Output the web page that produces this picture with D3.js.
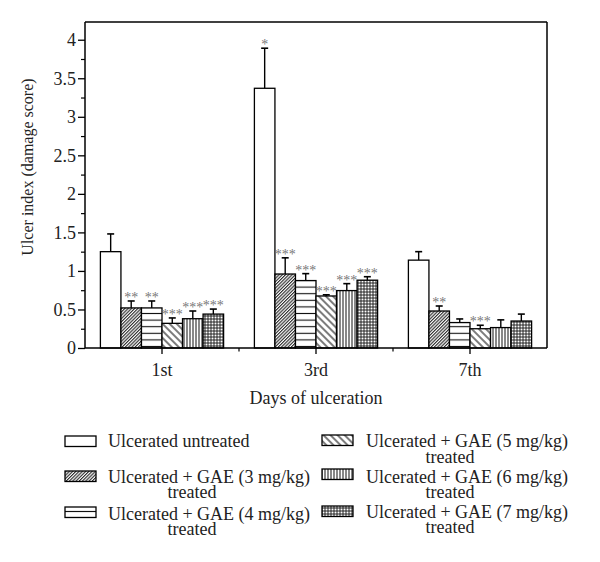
<!DOCTYPE html>
<html><head><meta charset="utf-8">
<script src="https://cdn.jsdelivr.net/npm/d3@7"></script>
<style>
html,body{margin:0;padding:0;background:#fff;}
svg text{font-family:"Liberation Serif","Times New Roman",serif !important;}
</style></head>
<body><svg id="c" width="600" height="562"></svg>
<script>
const categories = ["1st", "3rd", "7th"];
const seriesNames = [
  "Ulcerated untreated",
  "Ulcerated + GAE (3 mg/kg) treated",
  "Ulcerated + GAE (4 mg/kg) treated",
  "Ulcerated + GAE (5 mg/kg) treated",
  "Ulcerated + GAE (6 mg/kg) treated",
  "Ulcerated + GAE (7 mg/kg) treated"
];
const legendLine1 = [
  "Ulcerated untreated",
  "Ulcerated + GAE (3 mg/kg)",
  "Ulcerated + GAE (4 mg/kg)",
  "Ulcerated + GAE (5 mg/kg)",
  "Ulcerated + GAE (6 mg/kg)",
  "Ulcerated + GAE (7 mg/kg)"
];
// values[series][category]
const means = [
  [1.25, 3.37, 1.14],
  [0.52, 0.96, 0.48],
  [0.52, 0.875, 0.33],
  [0.32, 0.675, 0.25],
  [0.38, 0.745, 0.265],
  [0.44, 0.88, 0.35]
];
const errors = [
  [0.23, 0.52, 0.11],
  [0.09, 0.21, 0.065],
  [0.09, 0.09, 0.047],
  [0.07, 0.015, 0.045],
  [0.10, 0.09, 0.10],
  [0.065, 0.045, 0.09]
];
const stars = [
  ["", "*", ""],
  ["**", "***", "**"],
  ["**", "***", ""],
  ["***", "***", "***"],
  ["***", "***", ""],
  ["***", "***", ""]
];
const yTicks = [0, 0.5, 1, 1.5, 2, 2.5, 3, 3.5, 4];
const yTickLabels = ["0", "0.5", "1", "1.5", "2", "2.5", "3", "3.5", "4"];
const yMinorTicks = [0.25, 0.75, 1.25, 1.75, 2.25, 2.75, 3.25, 3.75];

const svg = d3.select("#c");
const L = 85, R = 547, T = 22, B = 348;

const x0 = d3.scaleBand().domain(categories).range([L, R]).padding(0);
const bw = x0.bandwidth();
const x1 = d3.scaleBand().domain(d3.range(seriesNames.length)).range([bw * 0.1, bw * 0.9]).padding(0);
const y = d3.scaleLinear().domain([0, 4.23]).range([B, T]);

// patterns
const defs = svg.append("defs");
function pat(id, w, h, draw, transform) {
  const p = defs.append("pattern").attr("id", id).attr("patternUnits", "userSpaceOnUse")
    .attr("width", w).attr("height", h);
  if (transform) p.attr("patternTransform", transform);
  p.append("rect").attr("width", w).attr("height", h).attr("fill", "#fff");
  draw(p, w, h);
}
const sc = "#111";
pat("p1", 2.3, 10, (p, w, h) => p.append("line").attr("x1", 0.6).attr("x2", 0.6).attr("y1", 0).attr("y2", h).attr("stroke", sc).attr("stroke-width", 1), "rotate(45)");
pat("p2", 10, 6.6, (p, w, h) => p.append("line").attr("x1", 0).attr("x2", w).attr("y1", 3.3).attr("y2", 3.3).attr("stroke", sc).attr("stroke-width", 1.1));
pat("p3", 5, 10, (p, w, h) => p.append("line").attr("x1", 1).attr("x2", 1).attr("y1", 0).attr("y2", h).attr("stroke", sc).attr("stroke-width", 1.1), "rotate(-45)");
pat("p4", 3, 10, (p, w, h) => p.append("line").attr("x1", 1).attr("x2", 1).attr("y1", 0).attr("y2", h).attr("stroke", sc).attr("stroke-width", 1));
pat("p5", 3, 3, (p, w, h) => {
  p.append("line").attr("x1", 1).attr("x2", 1).attr("y1", 0).attr("y2", h).attr("stroke", sc).attr("stroke-width", 0.9);
  p.append("line").attr("x1", 0).attr("x2", w).attr("y1", 1).attr("y2", 1).attr("stroke", sc).attr("stroke-width", 0.9);
});
const fills = ["#fff", "url(#p1)", "url(#p2)", "url(#p3)", "url(#p4)", "url(#p5)"];

// bars
const data = [];
seriesNames.forEach((s, si) => categories.forEach((c, ci) => data.push({si, ci, c, v: means[si][ci], e: errors[si][ci], st: stars[si][ci]})));

const g = svg.append("g");
// error bars
g.selectAll(".err").data(data).join("g").each(function(d) {
  const cx = x0(d.c) + x1(d.si) + x1.bandwidth() / 2;
  const sel = d3.select(this);
  sel.append("line").attr("x1", cx).attr("x2", cx).attr("y1", y(d.v)).attr("y2", y(d.v + d.e)).attr("stroke", "#000").attr("stroke-width", 1.4);
  sel.append("line").attr("x1", cx - 3.5).attr("x2", cx + 3.5).attr("y1", y(d.v + d.e)).attr("y2", y(d.v + d.e)).attr("stroke", "#000").attr("stroke-width", 1.6);
});
g.selectAll(".bar").data(data).join("rect")
  .attr("x", d => x0(d.c) + x1(d.si))
  .attr("width", x1.bandwidth())
  .attr("y", d => y(d.v))
  .attr("height", d => B - y(d.v))
  .attr("fill", d => fills[d.si])
  .attr("stroke", "#000").attr("stroke-width", 1.3);
// stars
g.selectAll(".star").data(data.filter(d => d.st)).join("text")
  .attr("x", d => x0(d.c) + x1(d.si) + x1.bandwidth() / 2)
  .attr("y", d => y(d.v + d.e) + 1)
  .attr("text-anchor", "middle")
  .style("font-size", "14px")
  .style("fill", "#777")
  .text(d => d.st);

// frame
svg.append("line").attr("x1", L).attr("x2", R).attr("y1", T).attr("y2", T).attr("stroke", "#000").attr("stroke-width", 1.5);
svg.append("line").attr("x1", R).attr("x2", R).attr("y1", T).attr("y2", B).attr("stroke", "#000").attr("stroke-width", 1.5);

// y axis
const yAxis = svg.append("g").attr("transform", `translate(${L},0)`)
  .call(d3.axisLeft(y).tickValues(yTicks).tickFormat((d, i) => yTickLabels[i]).tickSize(7).tickSizeOuter(0));
yAxis.attr("font-family", null).attr("font-size", null);
yAxis.select(".domain").attr("stroke-width", 1.5).attr("d", `M0,${T}V${B}`);
yAxis.selectAll(".tick line").attr("stroke-width", 1.3);
yAxis.selectAll(".tick text").style("font-size", "18px").attr("x", -9).style("fill", "#222");
svg.append("g").attr("transform", `translate(${L},0)`)
  .call(d3.axisLeft(y).tickValues(yMinorTicks).tickFormat("").tickSize(4).tickSizeOuter(0))
  .call(a => a.select(".domain").remove())
  .selectAll(".tick line").attr("stroke-width", 1.2);

// x axis
const xAxis = svg.append("g").attr("transform", `translate(0,${B})`)
  .call(d3.axisBottom(x0).tickSize(6).tickSizeOuter(0).tickPadding(9));
xAxis.attr("font-family", null).attr("font-size", null);
xAxis.select(".domain").attr("stroke-width", 1.5).attr("d", `M${L},0H${R}`);
xAxis.selectAll(".tick line").attr("stroke-width", 1.3);
xAxis.selectAll(".tick text").style("font-size", "18px").style("fill", "#222");
const minorX = categories.slice(0, -1).map(c => x0(c) + bw);
svg.append("g").selectAll("line").data(minorX).join("line")
  .attr("x1", d => d).attr("x2", d => d).attr("y1", B).attr("y2", B + 3.5)
  .attr("stroke", "#000").attr("stroke-width", 1.2);

// axis titles
svg.append("text").attr("x", (L + R) / 2).attr("y", 404).attr("text-anchor", "middle").style("font-size", "18px").style("fill", "#222").text("Days of ulceration");
svg.append("text").attr("transform", `translate(33,${(T + B) / 2 - 18}) rotate(-90)`).attr("text-anchor", "middle").style("font-size", "16px").style("fill", "#222").text("Ulcer index (damage score)");

// legend
const legPos = [
  {sx: 65, sy: 436, tx: 108, ty: 447, ty2: null},
  {sx: 65, sy: 471, tx: 108, ty: 483, ty2: 498},
  {sx: 65, sy: 507, tx: 108, ty: 520, ty2: 535},
  {sx: 322, sy: 435, tx: 366, ty: 447, ty2: 463},
  {sx: 322, sy: 469, tx: 366, ty: 483, ty2: 498},
  {sx: 322, sy: 506, tx: 366, ty: 518, ty2: 533}
];
const leg = svg.append("g");
seriesNames.forEach((s, i) => {
  const p = legPos[i];
  leg.append("rect").attr("x", p.sx).attr("y", p.sy).attr("width", 31).attr("height", 10.5)
    .attr("fill", fills[i]).attr("stroke", "#000").attr("stroke-width", 1.3);
  leg.append("text").attr("x", p.tx).attr("y", p.ty).style("font-size", "18px").style("fill", "#222").text(legendLine1[i]);
  if (p.ty2) leg.append("text").attr("x", p.tx + 84).attr("y", p.ty2).attr("text-anchor", "middle").style("font-size", "18px").style("fill", "#222").text("treated");
});
</script></body></html>
